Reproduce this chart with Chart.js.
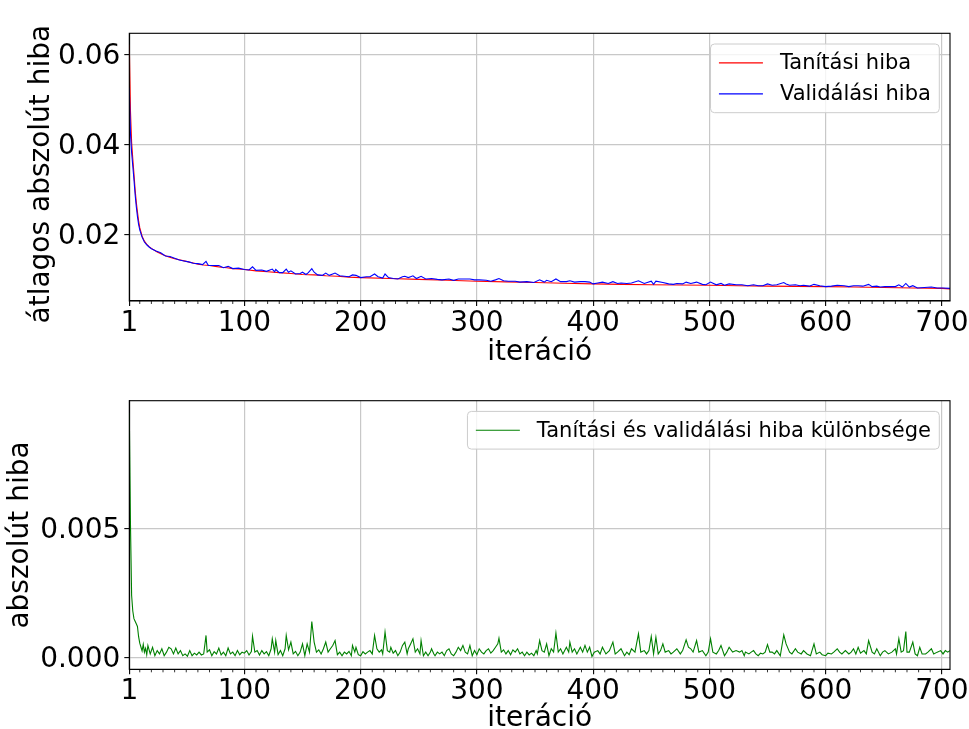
<!DOCTYPE html>
<html>
<head>
<meta charset="utf-8">
<script src="https://cdn.jsdelivr.net/npm/chart.js@4.4.0/dist/chart.umd.min.js"></script>
<style>
html, body { margin: 0; padding: 0; background: #fff; overflow: hidden; width: 969px; height: 729px; }
canvas { position: absolute; left: 0; }
#top { top: 0; }
#bottom { top: 370px; }
</style>
</head>
<body>
<canvas id="top" width="969" height="370"></canvas>
<canvas id="bottom" width="969" height="368"></canvas>
<script>
// [iteration, value]
var trainErr = [
    [1,0.0622],[2,0.0475],[3,0.0405],[4,0.0368],[5,0.0335],[6,0.0300],[7,0.0272],[8,0.0250],[9,0.0230],[10,0.0215],
    [12,0.0196],[14,0.0185],[16,0.0178],[18,0.0173],[20,0.0169],[25,0.0161],[30,0.0155],[35,0.0150],[40,0.0146],[45,0.0143],
    [50,0.0140],[55,0.0137],[60,0.0134],[65,0.0132],[70,0.0131],[75,0.0129],[80,0.0127],[85,0.0126],[90,0.0124],[95,0.0123],
    [100,0.0122],[110,0.0119],[120,0.0117],[130,0.0115],[140,0.0113],[150,0.0111],[160,0.0110],[170,0.0108],[180,0.0107],[190,0.0105],
    [200,0.0104],[225,0.0102],[250,0.0100],[275,0.0098],[300,0.0096],[325,0.00945],[350,0.0093],[375,0.00915],[400,0.0090],[425,0.0089],
    [450,0.0088],[475,0.00875],[500,0.0087],[525,0.0086],[550,0.0085],[575,0.00845],[600,0.0084],[625,0.0083],[650,0.0082],[675,0.0081],
    [700,0.0080],[707,0.0079]
];

var validErr = [
    [1,0.0526],[2,0.0425],[3,0.0382],[4,0.0352],[5,0.0322],[6,0.0289],[7,0.0262],[8,0.0240],[9,0.0222],[10,0.0210],
    [12,0.0194],[14,0.0183],[16,0.0177],[18,0.0172],[20,0.0168],[24,0.0163],[28,0.0159],[32,0.0152],[36,0.0151],[40,0.0147],
    [44,0.0143],[48,0.0141],[52,0.0139],[56,0.0136],[60,0.0135],[64,0.0133],[67,0.0140],[69,0.0131],[73,0.0131],[78,0.0131],
    [82,0.0126],[86,0.0129],[90,0.0124],[95,0.0125],[100,0.0122],[104,0.0121],[107,0.0128],[110,0.0120],[115,0.0121],[119,0.0118],
    [124,0.0123],[126,0.0117],[127,0.0122],[130,0.0115],[133,0.0115],[136,0.0123],[138,0.0116],[140,0.0119],[144,0.0112],[148,0.0113],
    [150,0.0116],[153,0.0111],[155,0.0115],[158,0.0124],[160,0.0116],[163,0.0110],[167,0.0109],[170,0.0114],[173,0.0109],[176,0.0112],
    [178,0.0114],[182,0.0108],[186,0.0107],[190,0.0106],[193,0.0110],[196,0.0109],[200,0.0104],[205,0.0106],[208,0.0106],[212,0.0112],
    [215,0.0106],[219,0.0103],[221,0.0112],[224,0.0104],[228,0.0102],[232,0.0101],[236,0.0106],[238,0.0107],[241,0.0104],[243,0.0106],
    [245,0.0108],[248,0.0102],[252,0.0107],[256,0.0101],[261,0.0102],[266,0.0100],[270,0.0099],[276,0.0101],[280,0.0098],[284,0.0101],
    [288,0.0101],[294,0.0101],[298,0.0099],[302,0.0099],[308,0.0098],[312,0.0096],[316,0.0099],[319,0.0102],[323,0.0097],[327,0.0096],
    [333,0.0096],[337,0.0094],[343,0.0095],[349,0.0093],[354,0.0099],[358,0.0094],[360,0.0098],[364,0.0095],[368,0.0101],[372,0.0095],
    [377,0.0095],[380,0.0097],[384,0.0094],[389,0.0095],[393,0.0095],[397,0.0094],[400,0.0090],[404,0.0092],[408,0.0094],[413,0.0091],
    [417,0.0095],[421,0.0091],[424,0.0092],[429,0.0091],[433,0.0092],[439,0.0097],[444,0.0091],[450,0.0096],[452,0.0089],[454,0.0096],
    [460,0.0093],[465,0.0090],[469,0.0089],[472,0.0091],[477,0.0090],[480,0.0094],[484,0.0091],[489,0.0094],[494,0.0089],[497,0.0088],
    [501,0.0094],[506,0.0088],[510,0.0091],[513,0.0087],[517,0.0090],[523,0.0088],[528,0.0088],[533,0.0086],[538,0.0088],[542,0.0086],
    [546,0.0086],[550,0.0090],[554,0.0087],[558,0.0088],[564,0.0093],[566,0.0090],[569,0.0087],[574,0.0088],[578,0.0086],[581,0.0087],
    [586,0.0085],[590,0.0089],[595,0.0086],[600,0.0084],[605,0.0085],[610,0.0087],[616,0.0086],[620,0.0084],[624,0.0086],[628,0.0086],
    [632,0.0085],[637,0.0089],[640,0.0084],[644,0.0085],[647,0.0083],[651,0.0084],[657,0.0084],[660,0.0084],[663,0.0088],[666,0.0083],
    [669,0.0091],[672,0.0083],[675,0.0086],[679,0.0081],[685,0.0082],[691,0.0083],[696,0.0081],[701,0.0081],[707,0.0080]
];

var errDiff = [
    [1,0.00951],[2,0.00520],[3,0.00240],[4,0.00180],[5,0.00150],[6,0.00140],[7,0.00130],[8,0.00120],[9,0.00080],[10,0.00055],
    [11,0.00040],[12,0.00025],[13,0.00050],[14,0.00020],[15,0.00035],[16,0.00010],[17,0.00046],[19,0.00013],[21,0.00039],[23,0.00006],
    [25,0.00026],[27,0.00013],[29,0.00033],[31,0.00006],[33,0.00020],[35,0.00039],[37,0.00033],[39,0.00013],[41,0.00036],[43,0.00013],
    [45,0.00026],[47,0.00006],[49,0.00013],[51,0.00004],[53,0.00026],[55,0.00006],[57,0.00016],[59,0.00009],[61,0.00020],[63,0.00009],
    [65,0.00013],[67,0.00085],[68,0.00020],[70,0.00029],[72,0.00006],[74,0.00022],[76,0.00013],[78,0.00036],[80,0.00009],[82,0.00020],
    [84,0.00006],[86,0.00036],[88,0.00013],[90,0.00020],[92,0.00006],[94,0.00026],[96,0.00010],[98,0.00020],[100,0.00016],[102,0.00026],
    [104,0.00009],[106,0.00022],[107,0.00082],[109,0.00020],[111,0.00026],[113,0.00009],[115,0.00026],[117,0.00013],[119,0.00022],[121,0.00006],
    [123,0.00033],[124,0.00072],[126,0.00020],[127,0.00065],[129,0.00010],[131,0.00026],[133,0.00006],[135,0.00033],[136,0.00085],[138,0.00029],
    [140,0.00059],[142,0.00013],[144,0.00023],[146,0.00006],[148,0.00020],[150,0.00052],[152,0.00006],[154,0.00052],[156,0.00020],[158,0.00139],
    [160,0.00059],[162,0.00020],[164,0.00029],[166,0.00013],[168,0.00033],[170,0.00059],[172,0.00020],[174,0.00033],[176,0.00046],[178,0.00065],
    [180,0.00010],[182,0.00020],[184,0.00006],[186,0.00020],[188,0.00013],[190,0.00023],[192,0.00006],[193,0.00046],[195,0.00020],[196,0.00039],
    [198,0.00010],[200,0.00006],[202,0.00022],[204,0.00013],[206,0.00020],[208,0.00026],[210,0.00013],[212,0.00085],[214,0.00033],[216,0.00020],
    [218,0.00029],[219,0.00013],[221,0.00098],[223,0.00026],[225,0.00020],[226,0.00039],[228,0.00016],[230,0.00026],[232,0.00006],[234,0.00020],
    [236,0.00046],[238,0.00059],[240,0.00013],[241,0.00033],[243,0.00052],[245,0.00072],[247,0.00020],[249,0.00033],[251,0.00013],[252,0.00065],
    [254,0.00006],[256,0.00020],[258,0.00006],[260,0.00020],[261,0.00033],[263,0.00013],[264,0.00006],[266,0.00020],[268,0.00013],[270,0.00020],
    [272,0.00006],[274,0.00026],[276,0.00033],[278,0.00013],[280,0.00006],[282,0.00020],[284,0.00039],[286,0.00026],[288,0.00046],[290,0.00020],
    [292,0.00013],[294,0.00046],[296,0.00006],[298,0.00026],[300,0.00010],[302,0.00033],[304,0.00020],[306,0.00013],[308,0.00026],[310,0.00033],
    [312,0.00016],[314,0.00026],[316,0.00039],[318,0.00052],[319,0.00074],[321,0.00020],[323,0.00029],[325,0.00013],[327,0.00026],[329,0.00010],
    [331,0.00029],[333,0.00020],[335,0.00033],[337,0.00013],[339,0.00020],[341,0.00006],[343,0.00020],[345,0.00009],[347,0.00016],[349,0.00006],
    [351,0.00026],[352,0.00013],[354,0.00065],[356,0.00026],[358,0.00020],[360,0.00052],[362,0.00006],[364,0.00033],[366,0.00020],[368,0.00094],
    [370,0.00020],[372,0.00033],[374,0.00013],[377,0.00039],[379,0.00020],[380,0.00059],[382,0.00020],[384,0.00033],[386,0.00013],[389,0.00039],
    [391,0.00020],[393,0.00046],[395,0.00020],[397,0.00039],[399,0.00003],[401,0.00020],[404,0.00026],[406,0.00013],[408,0.00039],[411,0.00013],
    [414,0.00026],[417,0.00059],[419,0.00013],[421,0.00020],[424,0.00033],[427,0.00006],[429,0.00020],[431,0.00010],[433,0.00033],[436,0.00020],
    [439,0.00091],[441,0.00020],[444,0.00026],[446,0.00013],[448,0.00026],[450,0.00081],[452,0.00013],[454,0.00078],[456,0.00013],[458,0.00026],
    [460,0.00052],[462,0.00020],[465,0.00026],[467,0.00013],[469,0.00020],[472,0.00033],[475,0.00013],[477,0.00026],[480,0.00068],[482,0.00039],
    [484,0.00033],[486,0.00020],[489,0.00065],[491,0.00020],[494,0.00026],[497,0.00006],[499,0.00020],[501,0.00072],[503,0.00020],[506,0.00013],
    [508,0.00026],[510,0.00046],[513,0.00006],[515,0.00020],[517,0.00039],[520,0.00020],[523,0.00026],[526,0.00020],[528,0.00026],[530,0.00006],
    [531,0.00020],[534,0.00013],[536,0.00020],[538,0.00026],[540,0.00013],[542,0.00006],[544,0.00016],[546,0.00013],[548,0.00020],[550,0.00049],
    [552,0.00020],[554,0.00020],[556,0.00013],[558,0.00026],[561,0.00006],[564,0.00087],[566,0.00052],[569,0.00020],[571,0.00013],[574,0.00033],
    [576,0.00020],[579,0.00013],[581,0.00026],[584,0.00013],[587,0.00006],[590,0.00052],[592,0.00013],[595,0.00020],[597,0.00010],[600,0.00006],
    [602,0.00016],[605,0.00013],[607,0.00020],[610,0.00033],[612,0.00020],[614,0.00013],[617,0.00026],[620,0.00013],[622,0.00020],[624,0.00033],
    [626,0.00013],[628,0.00039],[630,0.00016],[633,0.00026],[635,0.00013],[637,0.00065],[640,0.00020],[642,0.00013],[644,0.00033],[647,0.00006],
    [649,0.00020],[651,0.00026],[654,0.00013],[657,0.00020],[660,0.00033],[661,0.00013],[663,0.00072],[665,0.00020],[667,0.00026],[669,0.00100],
    [670,0.00020],[672,0.00020],[675,0.00059],[677,0.00013],[679,0.00006],[681,0.00039],[683,0.00013],[686,0.00013],[688,0.00020],[691,0.00033],
    [693,0.00013],[696,0.00020],[699,0.00026],[701,0.00013],[703,0.00026],[705,0.00020],[707,0.00026]
];

var xTicks = [1, 100, 200, 300, 400, 500, 600, 700];
var topYTicks = [0.02, 0.04, 0.06];
var bottomYTicks = [0.000, 0.005];

var minorTicks = [];
for (var m = 10; m <= 700; m += 10) {
    if (m % 100 !== 0) minorTicks.push(m);
}

Chart.defaults.font.family = '"DejaVu Sans", sans-serif';
Chart.defaults.color = '#000';

function toXY(arr) {
    return arr.map(function (p) { return { x: p[0], y: p[1] }; });
}

var framePlugin = {
    id: 'frame',
    afterDatasetsDraw: function (chart, args, opts) {
        var ctx = chart.ctx;
        var a = chart.chartArea;
        var xs = chart.scales.x;
        ctx.save();

        ctx.strokeStyle = '#000';
        ctx.lineWidth = 0.8;
        ctx.beginPath();
        for (var i = 0; i < minorTicks.length; i++) {
            var px = xs.getPixelForValue(minorTicks[i]);
            ctx.moveTo(px, a.bottom);
            ctx.lineTo(px, a.bottom + 3);
        }
        ctx.stroke();

        ctx.lineWidth = 1.1;
        ctx.strokeRect(a.left, a.top, a.right - a.left, a.bottom - a.top);

        // legend box, top right inside the plot
        var items = opts.items;
        ctx.font = '21px "DejaVu Sans"';
        var textW = 0;
        for (var j = 0; j < items.length; j++) {
            textW = Math.max(textW, ctx.measureText(items[j].label).width);
        }
        var pad = 8.4, handle = 44, gap = 17, rowH = 20.9, spacing = 10.1;
        var w = pad + handle + gap + textW + pad;
        var h = pad * 2 + items.length * rowH + (items.length - 1) * spacing;
        var bx = a.right - 10.7 - w;
        var by = a.top + 10.7;
        ctx.beginPath();
        if (ctx.roundRect) ctx.roundRect(bx, by, w, h, 4); else ctx.rect(bx, by, w, h);
        ctx.fillStyle = 'rgba(255,255,255,0.8)';
        ctx.fill();
        ctx.strokeStyle = '#cccccc';
        ctx.lineWidth = 1;
        ctx.stroke();
        for (var k = 0; k < items.length; k++) {
            var cy = by + pad + rowH / 2 + k * (rowH + spacing);
            ctx.beginPath();
            ctx.strokeStyle = items[k].color;
            ctx.lineWidth = 1.2;
            ctx.moveTo(bx + pad, cy);
            ctx.lineTo(bx + pad + handle, cy);
            ctx.stroke();
            ctx.fillStyle = '#000';
            ctx.textBaseline = 'middle';
            ctx.textAlign = 'left';
            ctx.fillText(items[k].label, bx + pad + handle + gap, cy + 1);
        }
        ctx.restore();
    }
};

function xAxis(axisHeight, titlePad) {
    return {
        type: 'linear',
        min: 1,
        max: 707,
        afterBuildTicks: function (scale) {
            scale.ticks = xTicks.map(function (v) { return { value: v }; });
        },
        afterFit: function (scale) {
            scale.height = axisHeight;
            scale.paddingLeft = 0;
            scale.paddingRight = 0;
        },
        ticks: {
            font: { size: 28 },
            color: '#000',
            padding: 1,
            maxRotation: 0,
            autoSkip: false,
            callback: function (v) { return String(v); }
        },
        grid: { color: '#c8c8c8', lineWidth: 1.2, tickColor: '#000', tickLength: 5, tickWidth: 1.1 },
        border: { display: true, color: '#000', width: 1.1 },
        title: {
            display: true,
            text: 'iteráció',
            color: '#000',
            font: { size: 28, lineHeight: 1.2 },
            padding: { top: 0, bottom: titlePad }
        }
    };
}

function yAxis(min, max, ticks, digits, label, titlePad) {
    return {
        type: 'linear',
        min: min,
        max: max,
        afterBuildTicks: function (scale) {
            scale.ticks = ticks.map(function (v) { return { value: v }; });
        },
        afterFit: function (scale) {
            scale.width = 129.3;
            scale.paddingTop = 0;
            scale.paddingBottom = 0;
        },
        ticks: {
            font: { size: 28 },
            color: '#000',
            padding: 4,
            labelOffset: 2,
            callback: function (v) { return Number(v).toFixed(digits); }
        },
        grid: { color: '#c8c8c8', lineWidth: 1.2, tickColor: '#000', tickLength: 5, tickWidth: 1.1 },
        border: { display: true, color: '#000', width: 1.1 },
        title: {
            display: true,
            text: label,
            color: '#000',
            font: { size: 28, lineHeight: 1.2 },
            padding: { top: titlePad, bottom: 0 }
        }
    };
}

var topChart = new Chart(document.getElementById('top').getContext('2d'), {
    type: 'line',
    data: {
        datasets: [{
            label: 'Tanítási hiba',
            data: toXY(trainErr),
            borderColor: '#ff0000',
            borderWidth: 1.1,
            pointRadius: 0,
            tension: 0,
            order: 2
        }, {
            label: 'Validálási hiba',
            data: toXY(validErr),
            borderColor: '#0000ff',
            borderWidth: 1.1,
            pointRadius: 0,
            tension: 0,
            order: 1
        }]
    },
    options: {
        responsive: false,
        animation: false,
        devicePixelRatio: 1,
        events: [],
        layout: { padding: { top: 33.3, right: 19, left: 0, bottom: 0 } },
        scales: {
            x: xAxis(69, 0),
            // trailing en space nudges the rotated label down a little
            y: yAxis(0.0052, 0.0647, topYTicks, 2, 'átlagos abszolút hiba\u2002', 25)
        },
        plugins: {
            legend: { display: false },
            tooltip: { enabled: false },
            frame: { items: [
                { label: 'Tanítási hiba', color: '#ff0000' },
                { label: 'Validálási hiba', color: '#0000ff' }
            ] }
        }
    },
    plugins: [framePlugin]
});

var bottomChart = new Chart(document.getElementById('bottom').getContext('2d'), {
    type: 'line',
    data: {
        datasets: [{
            label: 'Tanítási és validálási hiba különbsége',
            data: toXY(errDiff),
            borderColor: '#008000',
            borderWidth: 1.1,
            pointRadius: 0,
            tension: 0
        }]
    },
    options: {
        responsive: false,
        animation: false,
        devicePixelRatio: 1,
        events: [],
        layout: { padding: { top: 30.7, right: 19, left: 0, bottom: 0 } },
        scales: {
            x: xAxis(68.7, 2),
            y: yAxis(-0.000468, 0.00998, bottomYTicks, 3, 'abszolút hiba', 4)
        },
        plugins: {
            legend: { display: false },
            tooltip: { enabled: false },
            frame: { items: [
                { label: 'Tanítási és validálási hiba különbsége', color: '#008000' }
            ] }
        }
    },
    plugins: [framePlugin]
});
</script>
</body>
</html>
